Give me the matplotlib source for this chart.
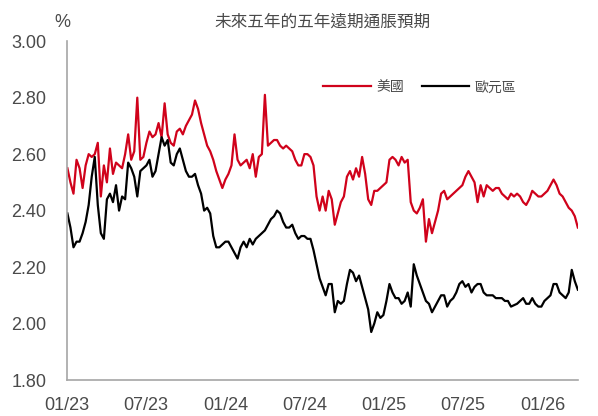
import matplotlib
matplotlib.use("Agg")
import matplotlib.pyplot as plt
import pandas as pd

# weekly observations starting 2023-01-02
start_date = "2023-01-02"
us_values = [
    2.55, 2.50, 2.46, 2.58, 2.55, 2.48, 2.56, 2.60, 2.59, 2.60,
    2.64, 2.45, 2.56, 2.50, 2.62, 2.53, 2.57, 2.56, 2.55, 2.60,
    2.67, 2.58, 2.61, 2.80, 2.58, 2.59, 2.64, 2.68, 2.66, 2.67,
    2.71, 2.66, 2.78, 2.67, 2.64, 2.63, 2.68, 2.69, 2.67, 2.70,
    2.72, 2.74, 2.79, 2.76, 2.71, 2.67, 2.63, 2.61, 2.58, 2.54,
    2.51, 2.48, 2.51, 2.53, 2.56, 2.67, 2.58, 2.56, 2.57, 2.58,
    2.55, 2.60, 2.52, 2.59, 2.60, 2.81, 2.63, 2.64, 2.65, 2.65,
    2.63, 2.62, 2.63, 2.62, 2.61, 2.58, 2.56, 2.56, 2.60, 2.60,
    2.59, 2.56, 2.45, 2.40, 2.45, 2.40, 2.47, 2.44, 2.35, 2.39,
    2.43, 2.45, 2.52, 2.54, 2.51, 2.55, 2.52, 2.59, 2.53, 2.44,
    2.42, 2.47, 2.47, 2.48, 2.49, 2.50, 2.58, 2.59, 2.58, 2.56,
    2.59, 2.57, 2.58, 2.43, 2.40, 2.39, 2.41, 2.44, 2.29, 2.37,
    2.32, 2.36, 2.40, 2.46, 2.47, 2.44, 2.45, 2.46, 2.47, 2.48,
    2.49, 2.52, 2.54, 2.52, 2.50, 2.43, 2.49, 2.45, 2.49, 2.48,
    2.47, 2.48, 2.48, 2.46, 2.45, 2.44, 2.46, 2.45, 2.46, 2.45,
    2.43, 2.42, 2.44, 2.47, 2.46, 2.45, 2.45, 2.46, 2.47, 2.49,
    2.51, 2.49, 2.46, 2.45, 2.43, 2.41, 2.40, 2.38, 2.34,
]
eu_values = [
    2.39, 2.34, 2.27, 2.29, 2.29, 2.32, 2.36, 2.42, 2.52, 2.59,
    2.42, 2.32, 2.30, 2.44, 2.46, 2.43, 2.49, 2.40, 2.45, 2.44,
    2.57, 2.55, 2.52, 2.45, 2.54, 2.55, 2.56, 2.58, 2.52, 2.54,
    2.60, 2.66, 2.63, 2.65, 2.57, 2.56, 2.60, 2.62, 2.58, 2.54,
    2.52, 2.52, 2.53, 2.49, 2.46, 2.40, 2.41, 2.39, 2.31, 2.27,
    2.27, 2.28, 2.29, 2.29, 2.27, 2.25, 2.23, 2.27, 2.29, 2.27,
    2.30, 2.28, 2.30, 2.31, 2.32, 2.33, 2.35, 2.37, 2.38, 2.40,
    2.39, 2.36, 2.34, 2.34, 2.35, 2.32, 2.30, 2.31, 2.31, 2.30,
    2.30, 2.26, 2.21, 2.16, 2.13, 2.10, 2.14, 2.14, 2.04, 2.08,
    2.07, 2.08, 2.14, 2.19, 2.18, 2.15, 2.17, 2.13, 2.09, 2.05,
    1.97, 2.00, 2.04, 2.02, 2.03, 2.08, 2.14, 2.11, 2.09, 2.09,
    2.07, 2.08, 2.11, 2.06, 2.21, 2.17, 2.14, 2.11, 2.08, 2.07,
    2.04, 2.06, 2.08, 2.10, 2.10, 2.06, 2.08, 2.09, 2.11, 2.14,
    2.15, 2.13, 2.14, 2.11, 2.13, 2.14, 2.14, 2.11, 2.10, 2.10,
    2.10, 2.09, 2.09, 2.09, 2.08, 2.08, 2.06, 2.065, 2.07, 2.08,
    2.09, 2.07, 2.07, 2.09, 2.07, 2.06, 2.06, 2.08, 2.09, 2.10,
    2.14, 2.14, 2.11, 2.10, 2.09, 2.11, 2.19, 2.15, 2.12,
]
series_names = ["美國", "歐元區"]
title = "未來五年的五年遠期通脹預期"
y_ticks = [1.80, 2.00, 2.20, 2.40, 2.60, 2.80, 3.00]
x_tick_dates = ["2023-01-01", "2023-07-01", "2024-01-01", "2024-07-01",
                "2025-01-01", "2025-07-01", "2026-01-01"]
x_tick_labels = ["01/23", "07/23", "01/24", "07/24", "01/25", "07/25", "01/26"]

dates = pd.date_range(start_date, periods=len(us_values), freq="7D")

plt.rcParams["font.family"] = ["Liberation Sans", "Noto Sans CJK TC", "DejaVu Sans"]
text_color = "#4a4a4a"

fig = plt.figure(figsize=(5.98, 4.16), dpi=100)
ax = fig.add_axes([0.112, 0.0865, 0.855, 0.8145])

ax.plot(dates, us_values, color="#d0021b", lw=1.6, label=series_names[0])
ax.plot(dates, eu_values, color="#000000", lw=1.6, label=series_names[1])

ax.set_ylim(1.80, 3.00)
ax.set_yticks(y_ticks)
ax.set_yticklabels([f"{v:.2f}" for v in y_ticks])
ax.set_xlim(pd.Timestamp("2023-01-01"), pd.Timestamp("2026-03-24"))
ax.set_xticks(pd.to_datetime(x_tick_dates))
ax.set_xticklabels(x_tick_labels)

for s in ["top", "right"]:
    ax.spines[s].set_visible(False)
for s in ["left", "bottom"]:
    ax.spines[s].set_color("#a6a6a6")
    ax.spines[s].set_linewidth(1.2)

ax.tick_params(axis="both", length=0, labelsize=13, colors=text_color)
ax.tick_params(axis="y", pad=15)
ax.tick_params(axis="x", pad=12)

fig.text(0.54, 0.947, title, ha="center", va="center", fontsize=12,
         color=text_color, family=["Noto Sans CJK TC", "DejaVu Sans"])
fig.text(0.105, 0.947, "%", ha="center", va="center", fontsize=13, color=text_color)

leg = ax.legend(loc="center left", bbox_to_anchor=(0.52, 0.79), bbox_transform=fig.transFigure,
                frameon=False, ncol=2, handlelength=3.4, columnspacing=1.3, handletextpad=0.4,
                prop={"family": ["Noto Sans CJK TC", "DejaVu Sans"], "size": 10})
for t in leg.get_texts():
    t.set_color(text_color)

fig.savefig("out.png", dpi=100)
